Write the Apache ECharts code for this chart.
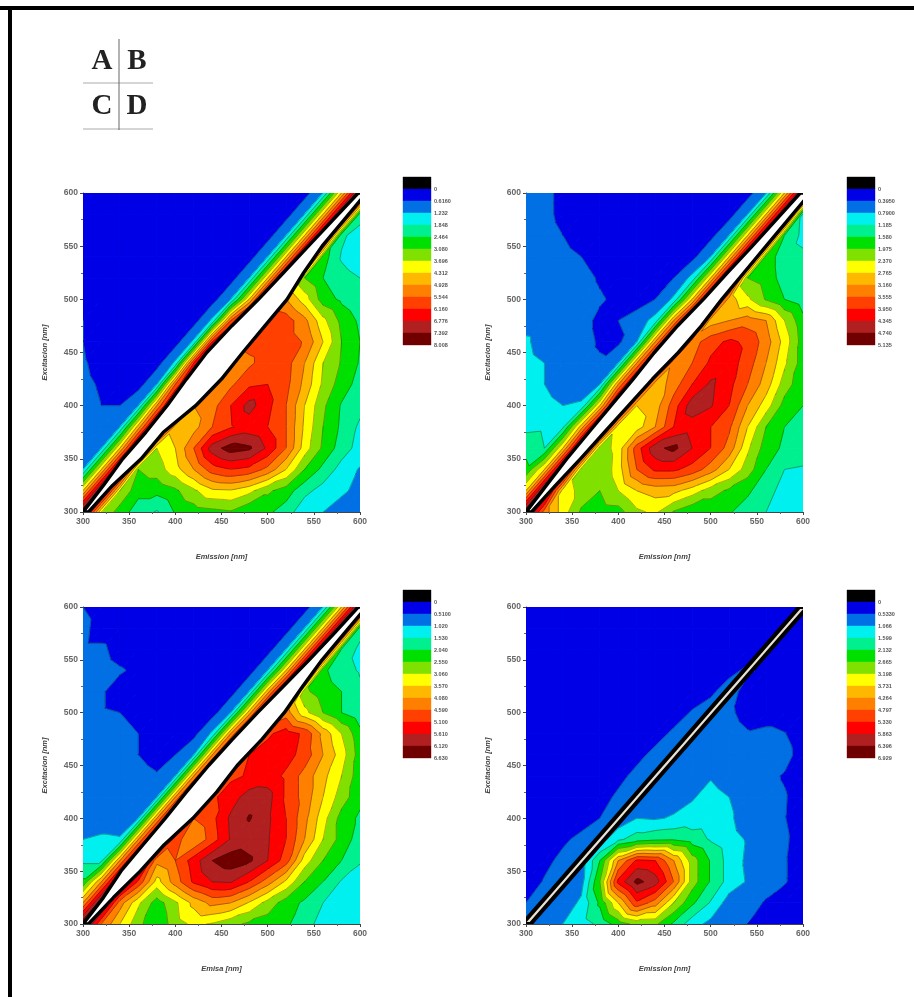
<!DOCTYPE html>
<html><head><meta charset="utf-8">
<style>html,body{margin:0;padding:0;background:#fff}#chart{width:914px;height:997px;filter:blur(0.6px)}</style>
<script src="https://cdn.jsdelivr.net/npm/echarts@6/dist/echarts.min.js"></script>
</head><body><div id="chart"></div>
<script>
// Emission columns and excitation rows (nm). Grid values are in colour-bar steps:
// 1 = first band below zero-label, each unit is one contour interval.
const emission = [300,320,340,360,380,400,420,440,460,480,500,520,540,560,580,600];
const excitation = [600,580,560,540,520,500,480,460,440,420,400,380,360,340,320,300];
const bandColors = ['#000000','#0000e6','#0070e4','#00f0f0','#00f090','#00e000','#80e000','#ffff00','#ffb800','#ff8000','#ff4000','#ff0000','#b02020','#700000'];

const gridA = [
[1.4,1.4,1.4,1.4,1.4,1.4,1.4,1.4,1.4,1.4,1.4,1.4,1.6,3,8,14],
[1.4,1.4,1.4,1.4,1.4,1.4,1.4,1.4,1.4,1.4,1.4,1.6,3,8,14,4.5],
[1.4,1.4,1.4,1.4,1.4,1.4,1.4,1.4,1.4,1.4,1.6,3,8,14,4.2,3.5],
[1.4,1.4,1.4,1.4,1.4,1.4,1.4,1.4,1.4,1.6,3,8,14,5.5,3.9,3.5],
[1.4,1.4,1.4,1.4,1.4,1.4,1.4,1.4,1.6,3,8,14,6,5,4.3,4],
[1.9,1.4,1.4,1.4,1.4,1.4,1.4,1.6,3,8,14,9,7.5,5.5,4.8,4.2],
[2,1.5,1.4,1.4,1.4,1.4,1.6,3.2,10,14,10.9,10.5,9.3,7.3,5.7,4.8],
[2,1.5,1.4,1.4,1.4,1.6,3.2,11,14,10.3,10.5,10.5,9.9,8,6,5],
[2.1,1.7,1.4,1.4,1.6,3.2,11,14,9.5,9.8,10.5,10.4,9,7,5.9,4.9],
[2.2,1.9,1.5,1.6,3,10,14,9,9.8,10.8,11,10.3,8.7,6.8,5.5,4.6],
[2.3,2,2,3,9,14,9,9.6,11,12.4,11.3,10,8,6.2,4.9,4.3],
[2.4,2.4,3,8.5,14,8.5,8.6,10,10.9,11.4,11,10,7.8,6,4.8,3.8],
[2.5,3,8,14,7,8,10,12.5,13.5,13.2,11.8,10,7.5,5.8,4.5,3.6],
[3,8,14,6,6.5,7.6,9,10.5,11,10.7,9.7,8,6,4.7,3.6,2.9],
[8,14,7,5.3,5.3,5.8,6.8,7.8,7.9,7.3,6.2,5.5,4.3,3.6,3.3,2.5],
[14,7,5.5,4.5,3.9,5.1,5.5,5.7,5.9,5.1,5.2,4.5,3.3,3,2.2,2.2]];

const gridB = [
[2.1,2.2,1.8,1.5,1.5,1.5,1.5,1.5,1.5,1.5,1.5,1.5,1.6,2.9,8,14],
[2.3,2.2,1.8,1.7,1.5,1.5,1.5,1.5,1.5,1.5,1.5,1.6,3,8,14,3.8],
[2.4,2.3,2,1.7,1.5,1.5,1.5,1.5,1.5,1.5,1.7,3,8,14,5,3.7],
[2.4,2.4,2.2,2,1.6,1.5,1.5,1.5,1.5,1.7,3,8,14,5.5,4.5,4.2],
[2.4,2.4,2.3,2.3,1.9,1.6,1.5,1.6,2,3.3,8,14,6,5.5,4.6,4.2],
[2.4,2.4,2.4,2.4,2.1,1.8,1.6,2,3.2,8,14,8.5,7.2,5.9,5,4.4],
[2.5,2.4,2.4,2.3,1.8,2,2.4,3.4,9,14,8.5,9,9.5,9,7,5.3],
[3.2,2.4,2.4,2.3,1.9,1.8,3,9,14,9.5,10.6,11.2,10.8,9.5,7.6,5.5],
[3.4,3,2.4,2.3,2.1,3,9,14,9.2,10,11.2,11.5,10.5,9,7.2,5.5],
[3.5,3,2.4,2.3,3,9,14,8.3,9.5,11,12.2,11.3,10,8.5,6.5,5.3],
[3.6,3.4,3,3.2,8,14,8,8.5,10.5,12.6,12.1,11,9,7.5,5.6,5],
[3.7,3.8,3.8,8.5,14,7.3,7.5,9,11,11.5,11,10.2,8,6,5,4.5],
[4.8,4,8,14,6.4,7.4,10.5,12.7,13.3,12,11,9.6,7.2,5.5,4.8,4.5],
[5.2,8,14,6.5,6.1,7.5,10,11.2,11.2,10.6,9.5,8,6.5,5,4,3.9],
[8,14,7.5,6.7,6,7,8,8.4,8.3,7.5,6.5,5.8,5.2,4.3,3.7,3],
[14,9.5,7.5,5.8,5.5,5.6,6.8,7.2,5.9,5.2,5.2,5.1,4.5,4,3.1,3]];

const gridC = [
[2,1.6,1.4,1.4,1.4,1.4,1.4,1.4,1.4,1.4,1.4,1.4,1.6,3,8,14],
[2.3,1.5,1.4,1.4,1.4,1.4,1.4,1.4,1.4,1.4,1.4,1.6,3,8,14,4.5],
[2.2,2.2,1.6,1.4,1.4,1.4,1.4,1.4,1.4,1.4,1.6,3,8,14,5,3.7],
[2.4,2.4,2.1,1.8,1.4,1.4,1.4,1.4,1.4,1.6,3,8,14,5.2,4.4,3.9],
[2.4,2.1,1.6,1.4,1.4,1.4,1.4,1.4,1.6,3,8.5,14,6.2,5.5,5,4.2],
[2.4,2.1,2,1.6,1.5,1.4,1.4,1.6,3,8.5,14,9.5,7.3,6,5,4.3],
[2.4,2.4,2.4,2,1.6,1.4,1.7,3.2,9,14,10.8,11.5,10.8,8.7,7,5.3],
[2.4,2.4,2.4,2,1.6,2,3,9,14,11,11.5,11.4,10.6,9,7.5,5.5],
[2.4,2.4,2.4,2.4,2.1,3,9,14,10.8,11.1,11.5,10.8,9.6,8.3,7,5.4],
[2.4,2.4,2.4,2.4,3,9,14,10.8,11.5,12.5,12.4,10.8,9.6,8,6.5,5.3],
[2.4,2.4,2.4,3,9,14,10,10.7,12.2,13.1,12.2,11,9.3,7.4,5.6,4.8],
[3,3.2,3.1,9,14,10.5,9,10.5,12.1,12.5,12.1,11,9,7,5.6,4.5],
[3.8,3.8,9,14,9.3,10,11.5,13,13.6,13.2,12,10.5,7.5,6,5,4.1],
[5.2,9,14,10.8,7.6,9.5,11.2,12,12.1,11,9.5,7.8,6,5,3.9,3.5],
[9,14,9.5,7.2,5.5,6.8,8.3,9.3,9,7.9,6.6,5.5,4.8,4,3.5,3.3],
[14,10,8,6.3,5.1,6.6,7.2,6.9,6.3,5.8,5.5,5.2,4.3,3.7,3.6,3.5]];

const gridD = [
[1.4,1.4,1.4,1.4,1.4,1.4,1.4,1.4,1.4,1.4,1.4,1.4,1.4,1.4,1.4,1.4],
[1.4,1.4,1.4,1.4,1.4,1.4,1.4,1.4,1.4,1.4,1.4,1.4,1.4,1.4,1.4,1.4],
[1.4,1.4,1.4,1.4,1.4,1.4,1.4,1.4,1.4,1.4,1.4,1.4,1.4,1.4,1.4,1.4],
[1.4,1.4,1.4,1.4,1.4,1.4,1.4,1.4,1.4,1.4,1.4,1.7,2.2,1.7,1.4,1.4],
[1.4,1.4,1.4,1.4,1.4,1.4,1.4,1.4,1.4,1.4,1.8,2.5,1.5,1.4,1.4,1.4],
[1.4,1.4,1.4,1.4,1.4,1.4,1.4,1.4,1.5,2.1,2.5,2.2,1.6,1.4,1.4,1.4],
[1.4,1.4,1.4,1.4,1.4,1.4,1.4,1.6,2.2,2.5,2.5,2.5,2.1,2.3,2.05,1.4],
[1.4,1.4,1.4,1.4,1.4,1.4,1.7,2.3,2.5,2.4,2.4,2.4,2.4,2.4,2.4,1.5],
[1.4,1.4,1.4,1.4,1.4,1.7,2.3,2.5,2.5,2.5,2.9,2.4,2.4,2.3,1.9,1.4],
[1.4,1.4,1.4,1.4,1.6,2.2,2.5,2.5,2.6,2.9,3.4,3,2.4,2.4,2.1,1.4],
[1.4,1.4,1.4,1.5,2,2.3,3,2.9,3.1,3.4,3.5,3.2,2.4,2.4,2.05,1.4],
[1.4,1.4,1.8,2.3,2.5,3.8,4.5,4.8,4.9,4.5,3.9,3.4,2.9,2.4,2.2,1.4],
[1.4,1.7,2.3,2.5,5,9,11.2,11,9,6.5,4.9,3.6,2.8,2.4,2.1,1.4],
[1.4,2.1,2.5,2.6,6,11.3,13.3,12.5,10,6.5,4.9,3.6,2.9,2.4,2.1,1.4],
[2,2.5,2.4,3.2,5.2,8,10.8,9.5,7,5.2,3.9,2.5,2.4,1.9,1.4,1.4],
[2.5,2,3,3.6,4.2,5.5,6.3,6.2,4.8,3.4,2.7,2.4,2,1.4,1.4,1.4]];

// Rayleigh scatter band: excitation rows, nm above and nm below the diagonal
const bandRows = [300,325,350,375,400,425,450,475,500,525,550,575,600];
const bandUpA = [0,3,7,7,9,13,16,14,10,8,6,4,2];
const bandLoA = [6,7,13,12,22,25,23,22,21,14,9,8,7];
const bandUpB = [0,3,6,7,8,9,11,11,8,7,5,4,3];
const bandLoB = [6,7,9,10,11,12,15,15,12,11,10,9,8];
const bandUpC = [0,3,9,10,11,13,14,13,11,8,5,3,2];
const bandLoC = [6,8,12,13,19,20,17,19,18,13,9,8,7];
const bandUpD = [4,4,4,4,4,4,4,4,4,4,4,4,4];
const bandLoD = [5,5,5,5,5,5,5,5,5,5,5,5,5];

const ticksA = ['0','0.6160','1.232','1.848','2.464','3.080','3.696','4.312','4.928','5.544','6.160','6.776','7.392','8.008'];
const ticksB = ['0','0.3950','0.7900','1.185','1.580','1.975','2.370','2.765','3.160','3.555','3.950','4.345','4.740','5.135'];
const ticksC = ['0','0.5100','1.020','1.530','2.040','2.550','3.060','3.570','4.080','4.590','5.100','5.610','6.120','6.630'];
const ticksD = ['0','0.5330','1.066','1.599','2.132','2.665','3.198','3.731','4.264','4.797','5.330','5.863','6.396','6.929'];

const panels = [
 {g:gridA,up:bandUpA,lo:bandLoA,t:ticksA,x:83,y:193,h:319,bx:403,by:177,yn:'Excitacion [nm]',xn:'Emission [nm]',white:'#ffffff',sw:3.5},
 {g:gridB,up:bandUpB,lo:bandLoB,t:ticksB,x:526,y:193,h:319,bx:847,by:177,yn:'Excitacion [nm]',xn:'Emission [nm]',white:'#ffffff',sw:3.5},
 {g:gridC,up:bandUpC,lo:bandLoC,t:ticksC,x:83,y:607,h:317,bx:403,by:590,yn:'Excitacion [nm]',xn:'Emisa [nm]',white:'#ffffff',sw:3.5},
 {g:gridD,up:bandUpD,lo:bandLoD,t:ticksD,x:526,y:607,h:317,bx:847,by:590,yn:'Excitacion [nm]',xn:'Emission [nm]',white:'#e8e2d4',sw:4}
];

function clipTri(poly, level, keepAbove){
  const out=[];
  for(let i=0;i<poly.length;i++){
    const a=poly[i],b=poly[(i+1)%poly.length];
    const ia=keepAbove?a[2]>=level:a[2]<=level, ib=keepAbove?b[2]>=level:b[2]<=level;
    if(ia) out.push(a);
    if(ia!==ib){const t=(level-a[2])/(b[2]-a[2]);out.push([a[0]+t*(b[0]-a[0]),a[1]+t*(b[1]-a[1]),level]);}
  }
  return out;
}
// Each cell is split along the direction of the scatter diagonal.
function cellTris(api){
  const x0=api.value(0),y0=api.value(1),x1=api.value(2),y1=api.value(3);
  const p=[[x0,y0,api.value(4)],[x1,y0,api.value(5)],[x1,y1,api.value(6)],[x0,y1,api.value(7)]];
  return {p,tris:[[p[0],p[1],p[3]],[p[1],p[2],p[3]]]};
}
function fillCell(params, api){
  const {p,tris}=cellTris(api);
  const vals=p.map(q=>q[2]);
  const lo=Math.min(...vals),hi=Math.max(...vals);
  const toPx=q=>api.coord([q[0],q[1]]);
  const children=[];
  const addPoly=(pts,band)=>{
    const col=bandColors[Math.min(band,13)];
    children.push({type:'polygon',shape:{points:pts.map(toPx)},style:{fill:col,stroke:col,lineWidth:1}});
  };
  if(Math.floor(lo)===Math.floor(hi)||lo>=13){addPoly(p,Math.floor(lo));return {type:'group',children};}
  tris.forEach(tri=>{
    const tl=Math.min(tri[0][2],tri[1][2],tri[2][2]),th=Math.max(tri[0][2],tri[1][2],tri[2][2]);
    for(let b=Math.floor(tl);b<=Math.min(13,Math.floor(th));b++){
      let poly=clipTri(tri,b,true);
      if(b<13&&poly.length) poly=clipTri(poly,b+1,false);
      if(poly.length>2) addPoly(poly,b);
    }
  });
  return {type:'group',children};
}
function lineCell(params, api){
  const {tris}=cellTris(api);
  const toPx=q=>api.coord([q[0],q[1]]);
  const children=[];
  tris.forEach(tri=>{
    const tl=Math.min(tri[0][2],tri[1][2],tri[2][2]),th=Math.max(tri[0][2],tri[1][2],tri[2][2]);
    for(let l=Math.ceil(tl);l<=Math.min(13,th);l++){
      const seg=[];
      for(let k=0;k<3;k++){
        const a=tri[k],d=tri[(k+1)%3];
        if((a[2]<l&&d[2]>=l)||(a[2]>=l&&d[2]<l)){const t=(l-a[2])/(d[2]-a[2]);seg.push([a[0]+t*(d[0]-a[0]),a[1]+t*(d[1]-a[1])]);}
      }
      if(seg.length===2) children.push({type:'polyline',shape:{points:seg.map(toPx)},style:{stroke:'rgba(30,20,10,0.5)',lineWidth:0.7,fill:null}});
    }
  });
  return {type:'group',children};
}

const grids=[],xAxes=[],yAxes=[],series=[];
panels.forEach((P,idx)=>{
  const gp=idx*2, gi=idx*2+1;
  grids.push({left:P.x,top:P.y,width:277,height:P.h});
  const axisCommon={type:'value',min:300,max:600,interval:50,nameLocation:'middle',
    axisLine:{show:true,lineStyle:{color:'#444',width:1}},
    axisTick:{show:true,length:3,lineStyle:{color:'#444'}},
    minorTick:{show:true,splitNumber:2,length:2,lineStyle:{color:'#666'}},
    splitLine:{show:false},
    axisLabel:{color:'#666',fontSize:8.5,fontFamily:'Liberation Sans',fontWeight:'bold',margin:5},
    nameTextStyle:{color:'#444',fontSize:7.5,fontStyle:'italic',fontWeight:'bold',fontFamily:'Liberation Sans'}};
  xAxes.push({...axisCommon,gridIndex:gp,name:P.xn,nameGap:41});
  yAxes.push({...axisCommon,gridIndex:gp,name:P.yn,nameGap:34});
  const cells=[];
  for(let r=0;r<excitation.length-1;r++)for(let c=0;c<emission.length-1;c++){
    cells.push([emission[c],excitation[r],emission[c+1],excitation[r+1],P.g[r][c],P.g[r][c+1],P.g[r+1][c+1],P.g[r+1][c]]);
  }
  series.push({type:'custom',xAxisIndex:gp,yAxisIndex:gp,data:cells,renderItem:fillCell,clip:true,silent:true,
    encode:{x:[0,2],y:[1,3]},z:2});
  series.push({type:'custom',xAxisIndex:gp,yAxisIndex:gp,data:cells,renderItem:lineCell,clip:true,silent:true,
    encode:{x:[0,2],y:[1,3]},z:3});
  const bandData=bandRows.map((ex,i)=>[ex,P.up[i],P.lo[i]]);
  series.push({type:'custom',xAxisIndex:gp,yAxisIndex:gp,data:bandData,clip:true,silent:true,z:4,
    encode:{x:0,y:0},
    renderItem(params,api){
      if(params.dataIndex!==0) return null;
      const pts=[];
      bandData.forEach(d=>pts.push(api.coord([d[0]-d[1],d[0]])));
      bandData.slice().reverse().forEach(d=>pts.push(api.coord([d[0]+d[2],d[0]])));
      return {type:'polygon',shape:{points:pts},style:{fill:P.white,stroke:'#000',lineWidth:P.sw,lineJoin:'round'}};
    }});
  // colour bar
  grids.push({left:P.bx,top:P.by,width:28,height:168});
  xAxes.push({type:'value',gridIndex:gi,min:0,max:1,show:false});
  yAxes.push({type:'value',gridIndex:gi,min:-1,max:13,interval:1,inverse:true,position:'right',
    axisLine:{show:false},axisTick:{show:false},splitLine:{show:false},
    axisLabel:{color:'#555',fontSize:5.5,fontWeight:'bold',fontFamily:'Liberation Sans',margin:3,formatter:v=>v<0?'':P.t[v]}});
  series.push({type:'custom',xAxisIndex:gi,yAxisIndex:gi,silent:true,z:3,
    data:bandColors.map((col,i)=>[0,i-1,1,i]),encode:{x:[0,2],y:[1,3]},
    renderItem(params,api){
      const a=api.coord([api.value(0),api.value(1)]),b=api.coord([api.value(2),api.value(3)]);
      const col=bandColors[params.dataIndex];
      return {type:'rect',shape:{x:a[0],y:a[1],width:b[0]-a[0],height:b[1]-a[1]},style:{fill:col,stroke:col,lineWidth:0.4}};
    }});
});

const chart=echarts.init(document.getElementById('chart'),null,{renderer:'canvas'});
const ln=(x1,y1,x2,y2,c,w)=>({type:'line',shape:{x1,y1,x2,y2},style:{stroke:c,lineWidth:w},silent:true});
const letter=(t,x,y)=>({type:'text',x,y,style:{text:t,fill:'#222',font:'bold 29px "Liberation Serif"',textAlign:'center',textVerticalAlign:'middle'},silent:true});
chart.setOption({
  animation:false,backgroundColor:'#ffffff',tooltip:{show:false},
  grid:grids,xAxis:xAxes,yAxis:yAxes,series,
  graphic:[
    ln(0,8,914,8,'#000',4),ln(10,8,10,997,'#000',4),
    ln(83,83,153,83,'#aaa',1),ln(83,129,153,129,'#aaa',1),ln(119,39,119,130,'#666',1),
    letter('A',102,62),letter('B',137,62),letter('C',102,107),letter('D',137,107)
  ]
});
</script></body></html>
